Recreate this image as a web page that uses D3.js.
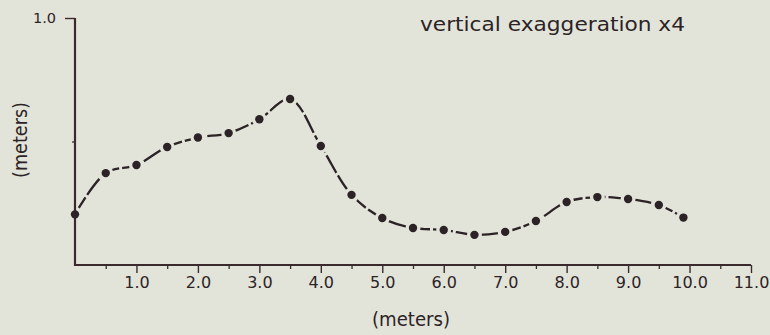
<!DOCTYPE html>
<html>
<head>
<meta charset="utf-8">
<script src="https://cdn.jsdelivr.net/npm/d3@7"></script>
<style>
  html, body { margin: 0; padding: 0; background: #e3e4d9; }
  svg { display: block; }
  text { font-family: "DejaVu Sans", sans-serif; fill: #2b2326; }
</style>
</head>
<body>
<svg id="chart" width="770" height="335"></svg>
<script>
// Data (distance in meters, elevation in meters)
const distance = [0, 0.5, 1.0, 1.5, 2.0, 2.5, 3.0, 3.5, 4.0, 4.5, 5.0, 5.5, 6.0, 6.5, 7.0, 7.5, 8.0, 8.5, 9.0, 9.5, 9.9];
const elevation = [0.205, 0.372, 0.405, 0.478, 0.516, 0.534, 0.590, 0.672, 0.482, 0.284, 0.190, 0.150, 0.142, 0.122, 0.134, 0.178, 0.255, 0.275, 0.267, 0.243, 0.192];
const xMajorTicks = [1, 2, 3, 4, 5, 6, 7, 8, 9, 10, 11];
const xMinorTicks = [0.5, 1.5, 2.5, 3.5, 4.5, 5.5, 6.5, 7.5, 8.5, 9.5, 10.5];
const yMajorTicks = [1.0];
const yMinorTicks = [0.5];
const annotation = "vertical exaggeration x4";
const xTitle = "(meters)";
const yTitle = "(meters)";

const svg = d3.select("#chart");
const ink = "#2b2326";
const axisInk = "#3a2a2e";
const font = "'DejaVu Sans', sans-serif";

const x = d3.scaleLinear().domain([0, 11]).range([75, 751]);
const y = d3.scaleLinear().domain([0, 1]).range([265, 18]);

// X axis: major ticks with labels
const xAxis = d3.axisBottom(x)
  .tickValues(xMajorTicks)
  .tickFormat(d3.format(".1f"))
  .tickSizeInner(8)
  .tickSizeOuter(0)
  .tickPadding(4);
const gx = svg.append("g").attr("transform", `translate(0,${y(0)})`).call(xAxis);
gx.select(".domain").attr("stroke", axisInk).attr("stroke-width", 2.2)
  .attr("d", `M${x(0)},0H${x(11)}`);
gx.selectAll(".tick line").attr("stroke", axisInk).attr("stroke-width", 1.4);
gx.selectAll(".tick text").attr("font-size", 16).attr("fill", ink)
  .attr("font-family", font);

// X minor ticks
const xMinor = d3.axisBottom(x).tickValues(xMinorTicks).tickFormat("").tickSizeInner(4).tickSizeOuter(0);
const gxm = svg.append("g").attr("transform", `translate(0,${y(0)})`).call(xMinor);
gxm.select(".domain").remove();
gxm.selectAll(".tick line").attr("stroke", axisInk).attr("stroke-width", 1.3);

// Y axis
const yAxis = d3.axisLeft(y)
  .tickValues(yMajorTicks)
  .tickFormat(d3.format(".1f"))
  .tickSizeInner(10)
  .tickSizeOuter(0)
  .tickPadding(9);
const gy = svg.append("g").attr("transform", `translate(${x(0)},0)`).call(yAxis);
gy.select(".domain").attr("stroke", axisInk).attr("stroke-width", 2.2)
  .attr("d", `M0,${y(1)}V${y(0) + 1}`);
gy.selectAll(".tick line").attr("stroke", axisInk).attr("stroke-width", 1.4);
gy.selectAll(".tick text").attr("font-size", 14.5).attr("fill", ink)
  .attr("font-family", font);

const yMinor = d3.axisLeft(y).tickValues(yMinorTicks).tickFormat("").tickSizeInner(3).tickSizeOuter(0);
const gym = svg.append("g").attr("transform", `translate(${x(0)},0)`).call(yMinor);
gym.select(".domain").remove();
gym.selectAll(".tick line").attr("stroke", axisInk).attr("stroke-width", 1.3);

// Profile line with gaps around the points
const pts = distance.map((d, i) => [d, elevation[i]]);
const defs = svg.append("defs");
const mask = defs.append("mask").attr("id", "gapmask")
  .attr("maskUnits", "userSpaceOnUse").attr("x", 0).attr("y", 0).attr("width", 770).attr("height", 335);
mask.append("rect").attr("width", 770).attr("height", 335).attr("fill", "white");
mask.selectAll("circle").data(pts).join("circle")
  .attr("cx", d => x(d[0])).attr("cy", d => y(d[1])).attr("r", 7.5).attr("fill", "black");

const line = d3.line().x(d => x(d[0])).y(d => y(d[1])).curve(d3.curveCatmullRom.alpha(0.5));
svg.append("path")
  .attr("d", line(pts))
  .attr("fill", "none")
  .attr("stroke", ink)
  .attr("stroke-width", 2.3)
  .attr("stroke-dasharray", "20 3")
  .attr("mask", "url(#gapmask)");

// Points
svg.append("g").selectAll("circle").data(pts).join("circle")
  .attr("cx", d => x(d[0]))
  .attr("cy", d => y(d[1]))
  .attr("r", 4.2)
  .attr("fill", ink);

// Titles
svg.append("text")
  .attr("x", 420).attr("y", 31)
  .attr("font-size", 20)
  .attr("textLength", 265)
  .attr("lengthAdjust", "spacingAndGlyphs")
  .text(annotation);

svg.append("text")
  .attr("x", 372).attr("y", 326)
  .attr("font-size", 20)
  .attr("textLength", 78)
  .attr("lengthAdjust", "spacingAndGlyphs")
  .text(xTitle);

svg.append("text")
  .attr("transform", "translate(27,178) rotate(-90)")
  .attr("font-size", 20)
  .attr("textLength", 76)
  .attr("lengthAdjust", "spacingAndGlyphs")
  .text(yTitle);
</script>
</body>
</html>
